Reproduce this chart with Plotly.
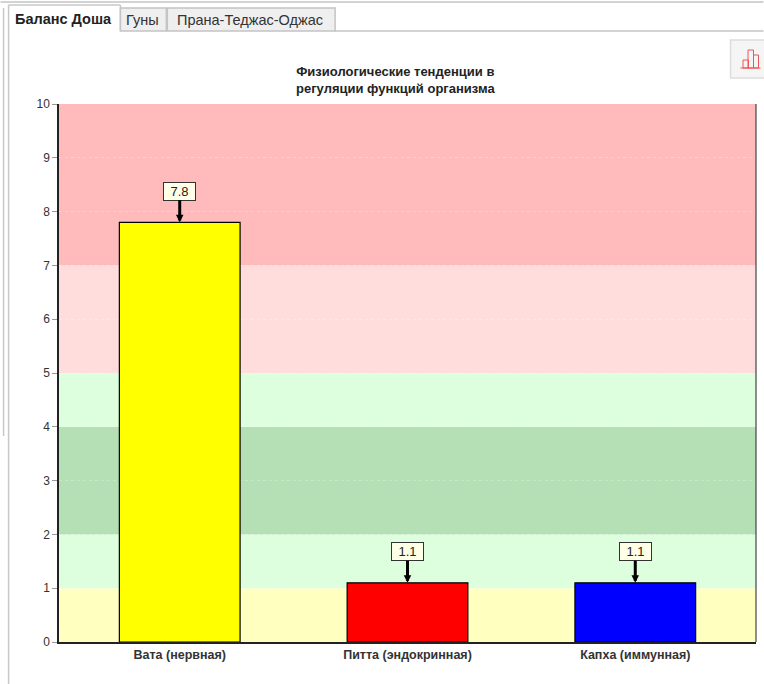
import plotly.graph_objects as go

W, H = 764, 684
L, R, T, B = 58.5, 756.5, 104, 642

categories = ["Вата (нервная)", "Питта (эндокринная)", "Капха (иммунная)"]
values = [7.8, 1.1, 1.1]
bar_colors = ["#FFFF00", "#FF0000", "#0000FF"]
band_edges = [0, 1, 2, 4, 5, 7, 10]
band_colors = ["#FFFFC0", "#DDFFDD", "#B5DFB5", "#DDFFDD", "#FFDDDD", "#FFBBBB"]
y_ticks = list(range(0, 11))
title_text = "<b>Физиологические тенденции в<br>регуляции функций организма</b>"
tab_labels = ["Баланс Доша", "Гуны", "Прана-Теджас-Оджас"]


def px(x):
    return (x - L) / (R - L)


def py(y):
    return 1 - (y - T) / (B - T)


def rect(x0, y0, x1, y1, fill="rgba(0,0,0,0)", line="#C4C4C4", width=1.5):
    return dict(type="rect", xref="paper", yref="paper", x0=px(x0), x1=px(x1),
                y0=py(y0), y1=py(y1), fillcolor=fill,
                line=dict(color=line, width=width), layer="above")


def seg(x0, y0, x1, y1, color="#C4C4C4", width=1.5):
    return dict(type="line", xref="paper", yref="paper", x0=px(x0), x1=px(x1),
                y0=py(y0), y1=py(y1), line=dict(color=color, width=width), layer="above")


fig = go.Figure(go.Bar(
    x=categories, y=values, width=0.53,
    marker=dict(color=bar_colors, line=dict(color="#000000", width=1.2)),
    hoverinfo="skip",
))

shapes = []
for lo, hi, c in zip(band_edges[:-1], band_edges[1:], band_colors):
    shapes.append(dict(type="rect", xref="paper", yref="y", x0=0, x1=1, y0=lo, y1=hi,
                       fillcolor=c, line=dict(width=0), layer="below"))

# window chrome
shapes += [
    seg(0, 2, 764, 2),
    seg(335, 31, 764, 31),
    seg(3, 8, 3, 436, "#C8C8C8", 1.5),
    seg(8, 5, 8, 684, "#C8C8C8", 1.5),
    seg(8, 5, 120, 5, "#C8C8C8", 1.5),
    seg(120, 5, 120, 31, "#C8C8C8", 1.5),
    rect(120, 8, 166, 31, fill="#EFEFEF"),
    rect(167, 8, 335, 31, fill="#EFEFEF"),
    rect(731, 40, 770, 78, fill="#F5F5F5", line="#DDDDDD", width=1.5),
    # chart icon
    seg(741, 68, 761, 68, "#EE5555", 1),
    rect(743.5, 60, 749, 68, line="#EE5555", width=1),
    rect(748.5, 50, 754, 68, line="#EE5555", width=1),
    rect(754, 55, 759, 68, line="#EE5555", width=1),
]

annotations = [
    dict(xref="paper", yref="paper", x=px(395), y=py(80), text=title_text, showarrow=False,
         font=dict(family="Liberation Sans", size=13, color="#222222"),
         xanchor="center", yanchor="middle", align="center"),
    dict(xref="paper", yref="paper", x=px(63.5), y=py(19), text="<b>%s</b>" % tab_labels[0], showarrow=False,
         xanchor="center", yanchor="middle",
         font=dict(family="Liberation Sans", size=14.5, color="#222222")),
    dict(xref="paper", yref="paper", x=px(142), y=py(20), text=tab_labels[1], showarrow=False,
         xanchor="center", yanchor="middle",
         font=dict(family="Liberation Sans", size=14.5, color="#333333")),
    dict(xref="paper", yref="paper", x=px(250), y=py(20), text=tab_labels[2], showarrow=False,
         xanchor="center", yanchor="middle",
         font=dict(family="Liberation Sans", size=14.5, color="#333333")),
]
for cat, v in zip(categories, values):
    annotations.append(dict(
        x=cat, y=v, xref="x", yref="y", text=f"{v}", showarrow=True,
        arrowhead=2, arrowsize=0.5, arrowwidth=3, arrowcolor="#000000",
        ax=0, ay=-31, standoff=0,
        bgcolor="#FFFFE8", bordercolor="#333333", borderwidth=1, borderpad=2,
        width=27, height=13,
        font=dict(family="Liberation Sans", size=13, color="#222222"),
    ))

axis_font = dict(family="Liberation Sans", size=12, color="#333333")
x_font = dict(family="Liberation Sans", size=12.5, color="#333333")
fig.update_layout(
    width=W, height=H, autosize=False,
    margin=dict(l=L, r=W - R, t=T, b=H - B, pad=0),
    paper_bgcolor="#FFFFFF", plot_bgcolor="#FFFFFF",
    showlegend=False, shapes=shapes, annotations=annotations,
    xaxis=dict(range=[-0.53, 2.53], type="category", showgrid=False, ticks="",
               tickprefix="<b>", ticksuffix="</b>", tickfont=x_font, ticklabelstandoff=0,
               showline=True, linecolor="#222222", linewidth=1.5, mirror=False),
    yaxis=dict(range=[0, 10], tickvals=y_ticks, ticks="outside", ticklen=5, tickcolor="#999999",
               tickfont=axis_font, showgrid=True, gridcolor="rgba(255,255,255,0.25)", griddash="dot", gridwidth=1,
               showline=True, linecolor="#222222", linewidth=1.5, zeroline=False),
)
fig.add_shape(type="line", xref="paper", yref="paper", x0=1, x1=1, y0=0, y1=1,
              line=dict(color="#444444", width=1.2), layer="above")
fig.write_html("out.html", config=dict(displayModeBar=False),
               post_script="document.body.style.margin='0';document.body.style.overflow='hidden';")
